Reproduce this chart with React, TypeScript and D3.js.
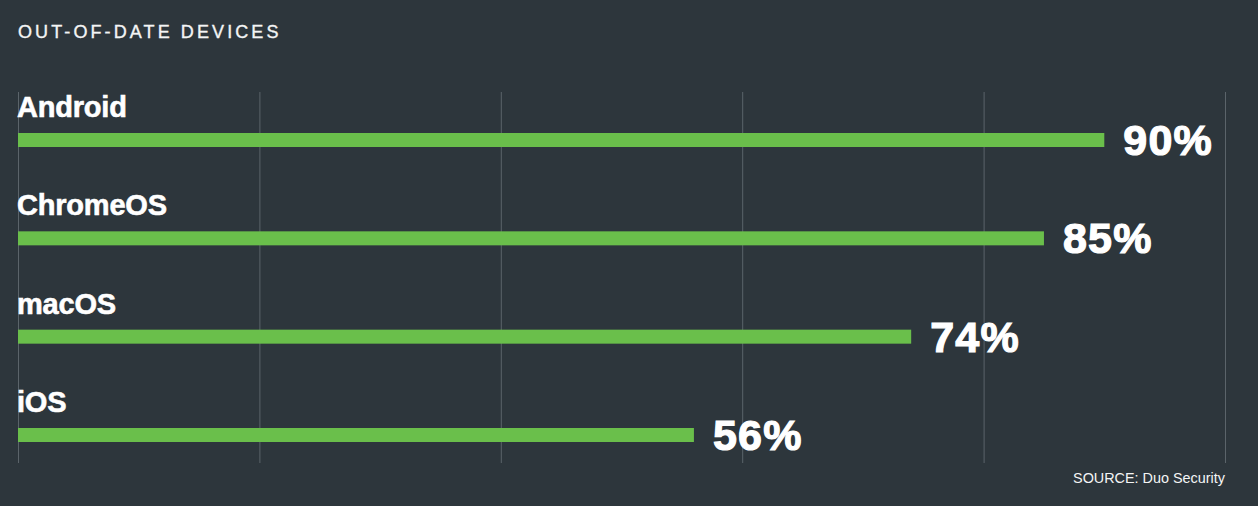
import React from "react";
import * as d3 from "d3";

const categories = ["Android", "ChromeOS", "macOS", "iOS"];
const values = [90, 85, 74, 56];
const gridTicks = [0, 20, 40, 60, 80, 100];
const title = "OUT-OF-DATE DEVICES";
const source = "SOURCE: Duo Security";

const W = 1258;
const H = 506;
const BG = "#2d363c";
const BAR = "#6abf4b";
const GRID = "#5b646a";

export default function App() {
  const x = d3.scaleLinear().domain([0, 100]).range([18.5, 1225.5]);
  const y = d3.scalePoint<string>().domain(categories).range([133, 428]);
  const font = "'Liberation Sans', Arial, Helvetica, sans-serif";
  return (
    <svg
      width={W}
      height={H}
      style={{ position: "fixed", left: 0, top: 0, display: "block" }}
      fontFamily={font}
    >
      <rect x={0} y={0} width={W} height={H} fill={BG} />
      <text x={18} y={38} fill="#f4f5f5" stroke="#f4f5f5" strokeWidth={0.35} fontSize={18} letterSpacing={3.1}>
        {title}
      </text>
      {gridTicks.map((t) => (
        <line key={t} x1={x(t)} x2={x(t)} y1={92} y2={463} stroke={GRID} strokeWidth={1} />
      ))}
      {categories.map((c, i) => {
        const yy = y(c) as number;
        return (
          <g key={c}>
            <text x={17} y={yy - 16} fill="#ffffff" stroke="#ffffff" strokeWidth={0.6} fontSize={29} fontWeight="bold" letterSpacing={-0.2}>
              {c}
            </text>
            <rect x={x(0) - 0.5} y={yy} width={x(values[i]) - x(0)} height={14} fill={BAR} />
            <text x={x(values[i]) + 18.5} y={yy + 22} fill="#ffffff" stroke="#ffffff" strokeWidth={1.2} fontSize={43} fontWeight="bold" letterSpacing={1.2}>
              {values[i]}%
            </text>
          </g>
        );
      })}
      <text x={1225} y={483} fill="#f4f5f5" fontSize={14.4} textAnchor="end" letterSpacing={0}>
        {source}
      </text>
    </svg>
  );
}
